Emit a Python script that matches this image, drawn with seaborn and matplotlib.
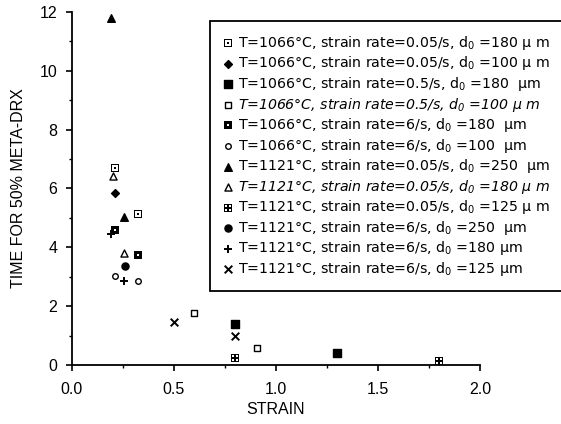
import numpy as np
import pandas as pd
import seaborn as sns
import matplotlib.pyplot as plt
from matplotlib.path import Path
from matplotlib.ticker import MultipleLocator

# series
labels = [
    "T=1066°C, strain rate=0.05/s, d$_0$ =180 µ m",
    "T=1066°C, strain rate=0.05/s, d$_0$ =100 µ m",
    "T=1066°C, strain rate=0.5/s, d$_0$ =180  µm",
    "T=1066°C, strain rate=0.5/s, d$_0$ =100 µ m",
    "T=1066°C, strain rate=6/s, d$_0$ =180  µm",
    "T=1066°C, strain rate=6/s, d$_0$ =100  µm",
    "T=1121°C, strain rate=0.05/s, d$_0$ =250  µm",
    "T=1121°C, strain rate=0.05/s, d$_0$ =180 µ m",
    "T=1121°C, strain rate=0.05/s, d$_0$ =125 µ m",
    "T=1121°C, strain rate=6/s, d$_0$ =250  µm",
    "T=1121°C, strain rate=6/s, d$_0$ =180 µm",
    "T=1121°C, strain rate=6/s, d$_0$ =125 µm",
]
strain = [
    [0.21, 0.325],
    [0.21],
    [0.80, 1.30],
    [0.60, 0.905],
    [0.21, 0.325],
    [0.21, 0.325],
    [0.19, 0.255],
    [0.20, 0.255],
    [0.80, 1.80],
    [0.26],
    [0.19, 0.255],
    [0.50, 0.80],
]
time50 = [
    [6.7, 5.13],
    [5.86],
    [1.38, 0.40],
    [1.78, 0.57],
    [4.6, 3.73],
    [3.04, 2.86],
    [11.8, 5.02],
    [6.44, 3.8],
    [0.23, 0.14],
    [3.38],
    [4.45, 2.87],
    [1.47, 1.0],
]


def sq(h, ccw=True, cx=0.0, cy=0.0):
    v = [(cx - h, cy - h), (cx + h, cy - h), (cx + h, cy + h), (cx - h, cy + h)]
    if not ccw:
        v = v[::-1]
    return v + [(0, 0)], [Path.MOVETO, Path.LINETO, Path.LINETO, Path.LINETO, Path.CLOSEPOLY]


def compound(*parts):
    verts, codes = [], []
    for v, c in parts:
        verts += v
        codes += c
    return Path(verts, codes)


dot_square = compound(sq(1.0), sq(0.62, False), sq(0.24))
hole_square = compound(sq(1.0), sq(0.32, False))
cross_square = compound(sq(1.0), sq(0.28, False, -0.42, -0.42), sq(0.28, False, 0.42, -0.42),
                        sq(0.28, False, -0.42, 0.42), sq(0.28, False, 0.42, 0.42))

# marker, face colour, size
styles = [
    (dot_square, "black", 34),
    ("D", "black", 16),
    ("s", "black", 28),
    ("s", "white", 24),
    (hole_square, "black", 34),
    ("o", "white", 16),
    ("^", "black", 30),
    ("^", "white", 26),
    (cross_square, "black", 34),
    ("o", "black", 26),
    ("+", "black", 36),
    ("x", "black", 30),
]

plt.rcParams["font.family"] = ["Liberation Sans", "DejaVu Sans"]
plt.rcParams["mathtext.default"] = "regular"

fig = plt.figure(figsize=(5.61, 4.24), dpi=100)
ax = fig.add_axes([0.128, 0.139, 0.728, 0.833])

for lab, xs, ys, (m, fc, s) in zip(labels, strain, time50, styles):
    df = pd.DataFrame({"strain": xs, "time": ys})
    if m in ("+", "x"):
        sns.scatterplot(data=df, x="strain", y="time", marker=m, color="black",
                        s=s, linewidth=1.4, label=lab, ax=ax)
    elif isinstance(m, Path):
        sns.scatterplot(data=df, x="strain", y="time", marker=m, color="black",
                        linewidth=0, s=s, label=lab, ax=ax)
    else:
        sns.scatterplot(data=df, x="strain", y="time", marker=m, color=fc,
                        edgecolor="black", linewidth=1.0, s=s, label=lab, ax=ax)

ax.set_xlim(0, 2.0)
ax.set_ylim(0, 12)
ax.xaxis.set_major_locator(MultipleLocator(0.5))
ax.xaxis.set_minor_locator(MultipleLocator(0.25))
ax.yaxis.set_major_locator(MultipleLocator(2))
ax.yaxis.set_minor_locator(MultipleLocator(1))
ax.set_xticklabels([f"{v:.1f}" for v in ax.get_xticks()])
ax.tick_params(which="major", direction="out", length=4.5, width=1.2, labelsize=11.5, pad=8)
ax.tick_params(which="minor", direction="out", length=2.5, width=1.0)
ax.tick_params(axis="y", which="major", pad=6)
for side in ("top", "right"):
    ax.spines[side].set_visible(False)
for side in ("left", "bottom"):
    ax.spines[side].set_linewidth(1.3)

ax.set_xlabel("STRAIN", fontsize=11.5, labelpad=3)
ax.set_ylabel("TIME FOR 50% META-DRX", fontsize=11.5, labelpad=10)

leg = ax.legend(loc="upper left", bbox_to_anchor=(0.374, 0.950), bbox_transform=fig.transFigure,
                prop={"family": ["DejaVu Sans"], "size": 10.2},
                frameon=True, fancybox=False, edgecolor="black", framealpha=1,
                labelspacing=0.18, handletextpad=0.3, borderpad=0.9, handlelength=0.8,
                scatterpoints=1, borderaxespad=0)
leg.get_frame().set_linewidth(1.3)
for i, t in enumerate(leg.get_texts()):
    if i in (3, 7):
        t.set_style("italic")

fig.savefig("out.png", dpi=100)
